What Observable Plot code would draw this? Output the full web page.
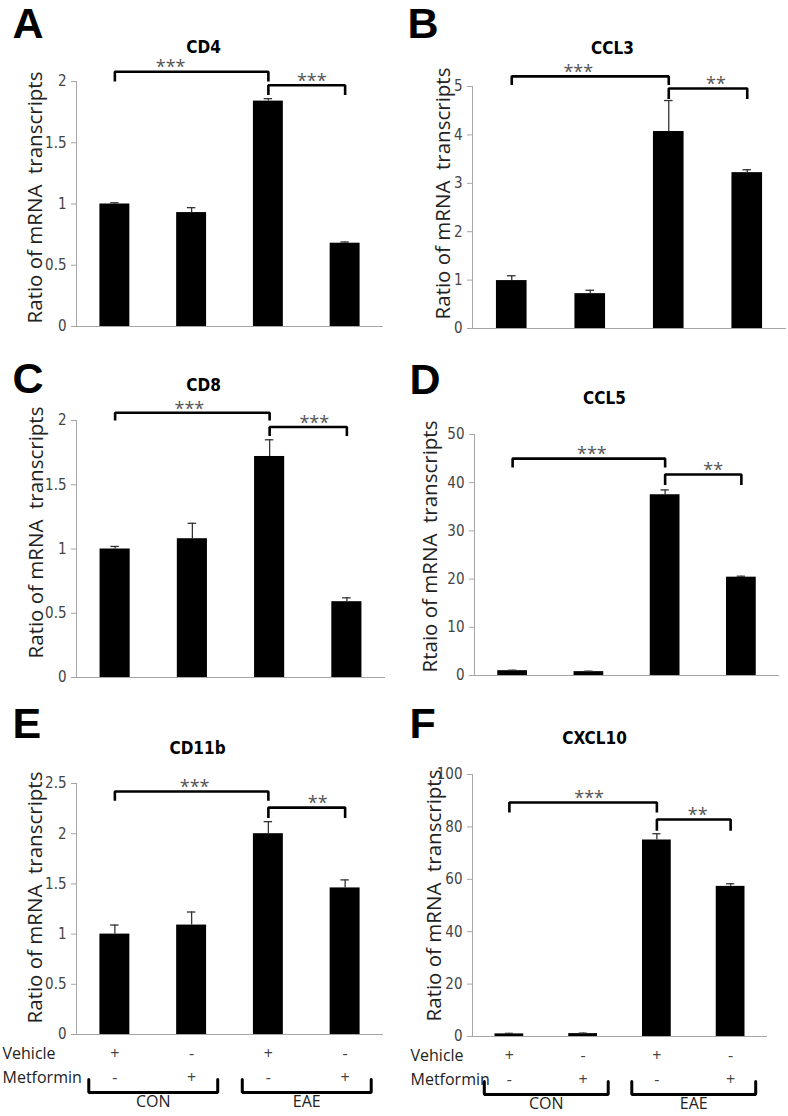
<!DOCTYPE html>
<html><head><meta charset="utf-8">
<script src="https://cdn.jsdelivr.net/npm/d3@7"></script>
<script src="https://cdn.jsdelivr.net/npm/@observablehq/plot@0.6"></script>
<style>
body{margin:0;background:#fff}
#fig{position:relative;width:788px;height:1116px;overflow:hidden;background:#fff}
#fig svg{position:absolute;overflow:visible}
#fig g[font-family*="Narrow"], #fig text[font-family*="Narrow"]{font-stretch:condensed}
</style></head><body><div id="fig"></div>
<script>
// ---- data ----
const groupIndex = [1, 2, 3, 4];
const vehicleRow = ["+", "-", "+", "-"];
const metforminRow = ["-", "+", "-", "+"];
const conditionNames = ["CON", "EAE"];
const conditionFrom = [1, 3];
const conditionTo = [2, 4];
const rowLabels = ["Vehicle", "Metformin"];

const sigFrom = [1, 3];
const sigTo = [3, 4];

const cd4Mean = [1.00, 0.93, 1.84, 0.68];
const cd4Err = [0.01, 0.04, 0.02, 0.01];
const cd4Ticks = [0, 0.5, 1, 1.5, 2];
const cd4SigTop = [2.08, 1.97];
const cd4SigBottom = [2.01, 1.90];
const cd4SigLabel = ["***", "***"];

const ccl3Mean = [0.99, 0.72, 4.07, 3.22];
const ccl3Err = [0.10, 0.07, 0.64, 0.06];
const ccl3Ticks = [0, 1, 2, 3, 4, 5];
const ccl3SigTop = [5.21, 4.96];
const ccl3SigBottom = [5.06, 4.77];
const ccl3SigLabel = ["***", "**"];

const cd8Mean = [1.00, 1.08, 1.72, 0.59];
const cd8Err = [0.02, 0.12, 0.13, 0.03];
const cd8Ticks = [0, 0.5, 1, 1.5, 2];
const cd8SigTop = [2.06, 1.95];
const cd8SigBottom = [2.01, 1.89];
const cd8SigLabel = ["***", "***"];

const ccl5Mean = [1.0, 0.8, 37.5, 20.4];
const ccl5Err = [0.1, 0.1, 1.0, 0.2];
const ccl5Ticks = [0, 10, 20, 30, 40, 50];
const ccl5SigTop = [45.0, 41.7];
const ccl5SigBottom = [43.4, 39.8];
const ccl5SigLabel = ["***", "**"];

const cd11bMean = [1.00, 1.09, 2.00, 1.46];
const cd11bErr = [0.09, 0.13, 0.12, 0.08];
const cd11bTicks = [0, 0.5, 1, 1.5, 2, 2.5];
const cd11bSigTop = [2.42, 2.26];
const cd11bSigBottom = [2.34, 2.17];
const cd11bSigLabel = ["***", "**"];

const cxcl10Mean = [1.0, 1.1, 75.0, 57.3];
const cxcl10Err = [0.2, 0.2, 2.4, 1.0];
const cxcl10Ticks = [0, 20, 40, 60, 80, 100];
const cxcl10SigTop = [89.3, 82.8];
const cxcl10SigBottom = [86.0, 79.0];
const cxcl10SigLabel = ["***", "**"];

const yLabelRatio = "Ratio of mRNA\u00a0 transcripts";
const yLabelRtaio = "Rtaio of mRNA\u00a0 transcripts";

// ---- layout (page pixels) ----
const layout = {
  A: {left:0,   top:0,   width:394, height:340, axisL:76,  axisR:383, y0:326,  yTop:81,  letter:[12,7],    title:[203,47],  ylab:[35,197],  starDx:[-21,5]},
  B: {left:394, top:0,   width:394, height:340, axisL:472, axisR:786, y0:328,  yTop:86,  letter:[407,7],   title:[612,48],  ylab:[443,193], starDx:[-12,8]},
  C: {left:0,   top:340, width:394, height:345, axisL:76,  axisR:385, y0:677,  yTop:420, letter:[12,362],  title:[203,385], ylab:[36,532],  starDx:[-3,6]},
  D: {left:394, top:340, width:394, height:345, axisL:474, axisR:779, y0:675,  yTop:434, letter:[409,363], title:[604,398], ylab:[430,546], starDx:[3,10]},
  E: {left:0,   top:685, width:394, height:431, axisL:76,  axisR:383, y0:1034, yTop:783, letter:[12,707],  title:[197,748], ylab:[35,897],  starDx:[3,11], rowLabelX:2},
  F: {left:394, top:685, width:394, height:431, axisL:472, axisR:767, y0:1036, yTop:774, letter:[409,707], title:[594,738], ylab:[434,895], starDx:[6,4],  rowLabelX:410}
};

const panels = [
  {key:"A", gene:"CD4",    mean:cd4Mean,    err:cd4Err,    ticks:cd4Ticks,    sigTop:cd4SigTop,    sigBottom:cd4SigBottom,    sigLabel:cd4SigLabel,    yLabel:yLabelRatio},
  {key:"B", gene:"CCL3",   mean:ccl3Mean,   err:ccl3Err,   ticks:ccl3Ticks,   sigTop:ccl3SigTop,   sigBottom:ccl3SigBottom,   sigLabel:ccl3SigLabel,   yLabel:yLabelRatio},
  {key:"C", gene:"CD8",    mean:cd8Mean,    err:cd8Err,    ticks:cd8Ticks,    sigTop:cd8SigTop,    sigBottom:cd8SigBottom,    sigLabel:cd8SigLabel,    yLabel:yLabelRatio},
  {key:"D", gene:"CCL5",   mean:ccl5Mean,   err:ccl5Err,   ticks:ccl5Ticks,   sigTop:ccl5SigTop,   sigBottom:ccl5SigBottom,   sigLabel:ccl5SigLabel,   yLabel:yLabelRtaio},
  {key:"E", gene:"CD11b",  mean:cd11bMean,  err:cd11bErr,  ticks:cd11bTicks,  sigTop:cd11bSigTop,  sigBottom:cd11bSigBottom,  sigLabel:cd11bSigLabel,  yLabel:yLabelRatio, annotate:true},
  {key:"F", gene:"CXCL10", mean:cxcl10Mean, err:cxcl10Err, ticks:cxcl10Ticks, sigTop:cxcl10SigTop, sigBottom:cxcl10SigBottom, sigLabel:cxcl10SigLabel, yLabel:yLabelRatio, annotate:true}
];

const narrow = "'Liberation Sans Narrow', 'DejaVu Sans Condensed', 'DejaVu Sans', sans-serif";
const sans = "'Open Sans', 'Noto Sans', sans-serif";
const axisGray = "#a6a6a6";
const fig = document.getElementById("fig");

for (const p of panels) {
  const L = layout[p.key];
  const max = p.ticks[p.ticks.length - 1];
  const pxPerY = (L.y0 - L.yTop) / max;
  const pxPerX = (L.axisR - L.axisL) / 4;
  const below = px => -px / pxPerY; // data value at px below the zero line

  const bars = p.mean.map((m, i) => ({i: groupIndex[i], m, e: m + p.err[i]}));
  const brPts = [];
  const sigs = [];
  p.sigTop.forEach((t, k) => {
    const f = sigFrom[k], to = sigTo[k], b = p.sigBottom[k];
    brPts.push({k, x: f, y: b}, {k, x: f, y: t}, {k, x: to, y: t}, {k, x: to, y: b});
    sigs.push({x: (f + to) / 2 + L.starDx[k] / pxPerX, y: t, lab: p.sigLabel[k]});
  });

  const marks = [
    Plot.ruleY([0], {stroke: axisGray, strokeWidth: 1}),
    Plot.ruleX([0.5], {stroke: axisGray, strokeWidth: 1}),
    Plot.axisY({ticks: p.ticks, tickSize: 5, tickPadding: 5, stroke: axisGray, fill: "#444",
      tickFormat: d => String(d), label: null, fontSize: 15, fontFamily: narrow}),
    Plot.rectY(bars, {x1: d => d.i - 0.195, x2: d => d.i + 0.195, y1: 0, y2: "m", fill: "#000"}),
    Plot.ruleX(bars, {x: "i", y1: "m", y2: "e", stroke: "#333", strokeWidth: 1.3}),
    Plot.ruleY(bars, {y: "e", x1: d => d.i - 0.055, x2: d => d.i + 0.055, stroke: "#333", strokeWidth: 1.3}),
    Plot.line(brPts, {x: "x", y: "y", z: "k", stroke: "#000", strokeWidth: 2.6, strokeLinejoin: "miter", strokeLinecap: "square"}),
    Plot.text(sigs, {x: "x", y: "y", text: "lab", dy: -4, lineAnchor: "middle", fontSize: 18, fill: "#555", fontFamily: sans}),
    Plot.text([p.key], {frameAnchor: "top-left", dx: L.letter[0] - L.axisL, dy: L.letter[1] - L.yTop,
      textAnchor: "start", lineAnchor: "top", fontSize: 43, fontWeight: "bold", fill: "#000",
      fontFamily: "'Liberation Sans', Arial, sans-serif"}),
    Plot.text([p.gene], {frameAnchor: "top-left", dx: L.title[0] - L.axisL, dy: L.title[1] - L.yTop,
      textAnchor: "middle", lineAnchor: "middle", fontSize: 17, fontWeight: "bold", fill: "#000", fontFamily: narrow}),
    Plot.text([p.yLabel], {frameAnchor: "top-left", dx: L.ylab[0] - L.axisL, dy: L.ylab[1] - L.yTop,
      rotate: -90, textAnchor: "middle", lineAnchor: "middle", fontSize: 20.5, fill: "#222", fontFamily: sans})
  ];

  if (p.annotate) {
    const grp = groupIndex.map((i, k) => ({i, v: vehicleRow[k], m: metforminRow[k]}));
    marks.push(
      Plot.text(grp, {x: "i", frameAnchor: "bottom", dy: 19, text: "v", lineAnchor: "middle", fontSize: 16, fill: "#444", fontFamily: sans}),
      Plot.text(grp, {x: "i", frameAnchor: "bottom", dy: 43, text: "m", lineAnchor: "middle", fontSize: 16, fill: "#444", fontFamily: sans}),
      Plot.text([rowLabels[0]], {frameAnchor: "bottom-left", dx: L.rowLabelX - L.axisL, dy: 19, textAnchor: "start", lineAnchor: "middle", fontSize: 16, fill: "#222", fontFamily: sans}),
      Plot.text([rowLabels[1]], {frameAnchor: "bottom-left", dx: L.rowLabelX - L.axisL, dy: 43, textAnchor: "start", lineAnchor: "middle", fontSize: 16, fill: "#222", fontFamily: sans})
    );
    const condPts = [];
    conditionNames.forEach((c, k) => {
      const a = conditionFrom[k] - 0.34, b = conditionTo[k] + 0.34;
      condPts.push({k, x: a, y: below(45)}, {k, x: a, y: below(58)}, {k, x: b, y: below(58)}, {k, x: b, y: below(45)});
    });
    marks.push(
      Plot.line(condPts, {x: "x", y: "y", z: "k", stroke: "#000", strokeWidth: 3, strokeLinejoin: "miter"}),
      Plot.text(conditionNames.map((c, k) => ({c, x: (conditionFrom[k] + conditionTo[k]) / 2})),
        {x: "x", frameAnchor: "bottom", dy: 67, text: "c", lineAnchor: "middle", fontSize: 16, fill: "#222", fontFamily: sans})
    );
  }

  const svg = Plot.plot({
    width: L.width,
    height: L.height,
    marginLeft: L.axisL - L.left,
    marginRight: L.left + L.width - L.axisR,
    marginTop: L.yTop - L.top,
    marginBottom: L.top + L.height - L.y0,
    x: {type: "linear", domain: [0.5, 4.5], axis: null},
    y: {type: "linear", domain: [0, max]},
    style: {background: "transparent", fontFamily: sans, fontSize: "14px", overflow: "visible"},
    marks
  });
  svg.style.left = L.left + "px";
  svg.style.top = L.top + "px";
  fig.appendChild(svg);
}
</script>
</body></html>
